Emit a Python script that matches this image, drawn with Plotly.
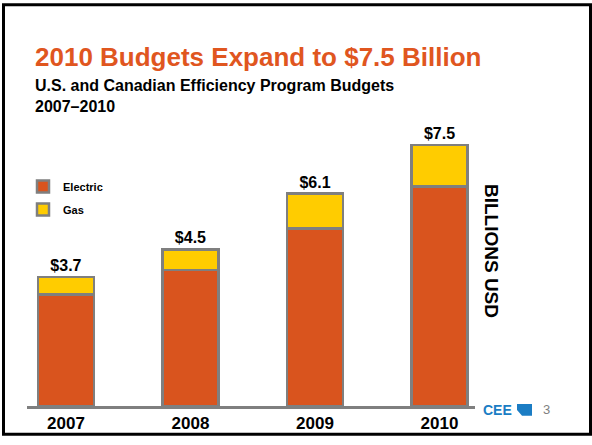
import plotly.graph_objects as go

years = ["2007", "2008", "2009", "2010"]
electric = [3.2, 3.9, 5.1, 6.3]
gas = [0.5, 0.6, 1.0, 1.2]
totals = [3.7, 4.5, 6.1, 7.5]
total_labels = ["$3.7", "$4.5", "$6.1", "$7.5"]

W, H = 592, 445
L, R, T, B = 27, 117, 130, 32
pw, ph = W - L - R, H - T - B

def px(x):
    return (x - L) / pw

def py(y):
    return (H - B - y) / ph

ORANGE = "#D9541E"
YELLOW = "#FFCC00"
GREY = "#7F7F7F"

pos = list(range(len(years)))

fig = go.Figure()
fig.add_trace(go.Bar(x=pos, y=electric, name="<b>Electric</b>", width=0.45, legendgroup="e",
                     marker=dict(color=ORANGE, line=dict(color=GREY, width=2.5))))
fig.add_trace(go.Bar(x=pos, y=gas, name="<b>Gas</b>", width=0.45, legendgroup="g",
                     text=total_labels, texttemplate="<b>%{text}</b>", textposition="outside",
                     cliponaxis=False,
                     textfont=dict(family="Liberation Sans", size=16, color="black"),
                     marker=dict(color=YELLOW, line=dict(color=GREY, width=2.5))))

# Title and subtitle
fig.add_annotation(x=px(33), y=py(55), xref="paper", yref="paper", xanchor="left", yanchor="middle",
                   text="<b>2010 Budgets Expand to $7.5 Billion</b>", showarrow=False,
                   font=dict(family="Liberation Sans", size=26, color="#E0561F"))
fig.add_annotation(x=px(33), y=py(84), xref="paper", yref="paper", xanchor="left", yanchor="middle",
                   text="<b>U.S. and Canadian Efficiency Program Budgets</b>", showarrow=False,
                   font=dict(family="Liberation Sans", size=16, color="black"))
fig.add_annotation(x=px(33), y=py(106), xref="paper", yref="paper", xanchor="left", yanchor="middle",
                   text="<b>2007–2010</b>", showarrow=False,
                   font=dict(family="Liberation Sans", size=16, color="black"))

# Axis label
fig.add_annotation(x=px(491), y=py(254), xref="paper", yref="paper", xanchor="center", yanchor="middle",
                   text="<b>BILLIONS USD</b>", textangle=90, showarrow=False,
                   font=dict(family="Liberation Sans", size=19, color="black"))

# Logo and page number
fig.add_annotation(x=px(481), y=py(417), xref="paper", yref="paper", xanchor="left", yanchor="middle",
                   text="<b>CEE</b>", showarrow=False,
                   font=dict(family="Liberation Sans", size=14, color="#1B7DC4"))
fig.add_shape(type="path", xref="paper", yref="paper", line=dict(width=0), fillcolor="#1B7DC4",
              path=f"M {px(517)} {py(411)} L {px(532)} {py(411)} L {px(532)} {py(423)} L {px(522)} {py(423)} L {px(517)} {py(417)} Z")
fig.add_annotation(x=px(546), y=py(417), xref="paper", yref="paper", xanchor="center", yanchor="middle",
                   text="3", showarrow=False,
                   font=dict(family="Liberation Sans", size=13, color="#808080"))

# Slide frame
fig.add_shape(type="rect", xref="paper", yref="paper",
              x0=px(3.5), x1=px(590.5), y0=py(442), y1=py(1.5),
              line=dict(color="black", width=3), fillcolor="rgba(0,0,0,0)")

fig.update_layout(
    width=W, height=H,
    margin=dict(l=L, r=R, t=T, b=B),
    barmode="stack",
    plot_bgcolor="white", paper_bgcolor="white",
    showlegend=True,
    legend=dict(x=px(23), y=py(173), xanchor="left", yanchor="top",
                traceorder="grouped", bgcolor="rgba(0,0,0,0)",
                font=dict(family="Liberation Sans", size=11, color="black"),
                itemwidth=30, tracegroupgap=4),
    xaxis=dict(range=[-0.313, 3.285], showline=True, linecolor=GREY, linewidth=3,
               tickvals=pos, ticktext=["<b>%s</b>" % y for y in years],
               ticks="", showgrid=False, zeroline=False,
               tickfont=dict(family="Liberation Sans", size=17, color="black")),
    yaxis=dict(range=[0, 283 / 35.7], visible=False, showgrid=False, zeroline=False),
)

fig.write_html("out.html", config={"displayModeBar": False},
               post_script="document.body.style.margin='0';")
